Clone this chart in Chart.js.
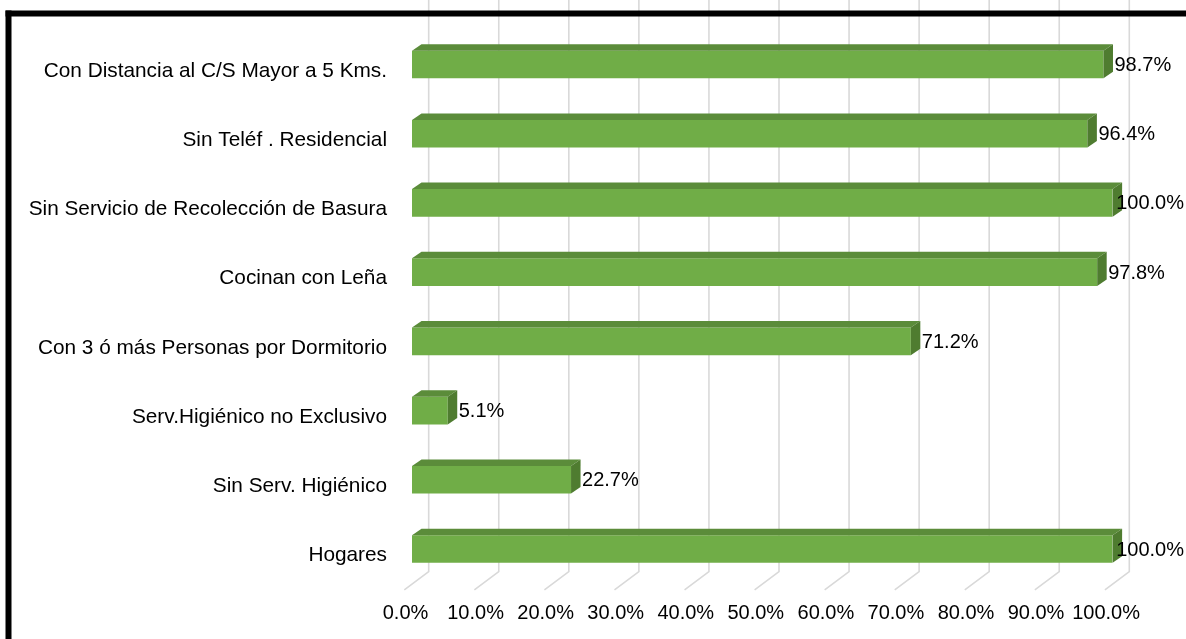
<!DOCTYPE html>
<html>
<head>
<meta charset="utf-8">
<script src="https://cdn.jsdelivr.net/npm/chart.js@4"></script>
<style>
  html, body { margin: 0; padding: 0; background: #fff; overflow: hidden; }
  #wrap { position: relative; width: 1186px; height: 639px; }
</style>
</head>
<body>
<div id="wrap"><canvas id="c" width="1186" height="639"></canvas></div>
<script>
// Indicadores de hogares (porcentaje)
const categories = [
  'Con Distancia al C/S Mayor a 5 Kms.',
  'Sin Teléf . Residencial',
  'Sin Servicio de Recolección de Basura',
  'Cocinan con Leña',
  'Con 3 ó más Personas por Dormitorio',
  'Serv.Higiénico no Exclusivo',
  'Sin Serv. Higiénico',
  'Hogares'
];
const values = [98.7, 96.4, 100.0, 97.8, 71.2, 5.1, 22.7, 100.0];
const tickValues = [0, 10, 20, 30, 40, 50, 60, 70, 80, 90, 100];
const tickLabels = ['0.0%', '10.0%', '20.0%', '30.0%', '40.0%', '50.0%', '60.0%', '70.0%', '80.0%', '90.0%', '100.0%'];

const FAMILY = '"Liberation Sans", Arial, sans-serif';
const FONT = { family: FAMILY, size: 20 };
const CAT_FONT = { family: FAMILY, size: 20.8 };
const FRONT = '#70ad47';
const TOP = '#5b8c3a';
const SIDE = '#4f7c30';
const GRID = '#d9d9d9';

// depth of the bars and of the back wall / floor
const BAR_DX = 9.5, BAR_DY = 6.5;
const WALL_DX = 16.7, WALL_LIFT = 12, FLOOR_DX = -24.4, FLOOR_DY = 18.3;

const pct = v => v.toFixed(1) + '%';

const frame = {
  id: 'frame',
  beforeDatasetsDraw(chart) {
    const { ctx, chartArea, scales: { x } } = chart;
    ctx.save();
    ctx.strokeStyle = GRID;
    ctx.lineWidth = 1.6;
    const yb = chartArea.bottom - WALL_LIFT;
    x.ticks.forEach(t => {
      const xb = x.getPixelForValue(t.value) + WALL_DX;
      ctx.beginPath();
      ctx.moveTo(xb, 0);
      ctx.lineTo(xb, yb);
      ctx.lineTo(xb + FLOOR_DX, yb + FLOOR_DY);
      ctx.stroke();
    });
    ctx.restore();
  },
  afterDatasetsDraw(chart) {
    const { ctx } = chart;
    const meta = chart.getDatasetMeta(0);
    ctx.save();
    meta.data.forEach(bar => {
      const { x, y, base, height } = bar.getProps(['x', 'y', 'base', 'height'], true);
      const top = y - height / 2, bot = y + height / 2;
      ctx.fillStyle = TOP;
      ctx.beginPath();
      ctx.moveTo(base, top);
      ctx.lineTo(base + BAR_DX, top - BAR_DY);
      ctx.lineTo(x + BAR_DX, top - BAR_DY);
      ctx.lineTo(x, top);
      ctx.closePath();
      ctx.fill();
      ctx.fillStyle = SIDE;
      ctx.beginPath();
      ctx.moveTo(x, top);
      ctx.lineTo(x + BAR_DX, top - BAR_DY);
      ctx.lineTo(x + BAR_DX, bot - BAR_DY);
      ctx.lineTo(x, bot);
      ctx.closePath();
      ctx.fill();
    });
    // value labels
    ctx.font = `${FONT.size}px ${FONT.family}`;
    ctx.fillStyle = '#000';
    ctx.textBaseline = 'middle';
    ctx.textAlign = 'left';
    meta.data.forEach((bar, i) => {
      const { x, y } = bar.getProps(['x', 'y'], true);
      const txt = pct(values[i]);
      const w = ctx.measureText(txt).width;
      const lx = Math.min(x + 11, chart.width - 2 - w);
      ctx.fillText(txt, lx, y + 1);
    });
    ctx.restore();
  },
  afterDraw(chart) {
    const { ctx } = chart;
    ctx.save();
    ctx.fillStyle = '#000';
    ctx.fillRect(5.5, 10.5, chart.width, 6);
    ctx.fillRect(5.5, 10.5, 6, chart.height);
    ctx.restore();
  }
};

new Chart(document.getElementById('c'), {
  type: 'bar',
  data: {
    labels: categories,
    datasets: [{
      data: values,
      backgroundColor: FRONT,
      borderWidth: 0,
      barPercentage: 0.4,
      categoryPercentage: 1
    }]
  },
  options: {
    indexAxis: 'y',
    responsive: false,
    animation: false,
    layout: { padding: { top: 29.9, right: 73.4, bottom: 0, left: 0 } },
    plugins: { legend: { display: false }, tooltip: { enabled: false } },
    scales: {
      x: {
        min: 0, max: 100,
        grid: { display: false, drawTicks: false },
        border: { display: false },
        afterBuildTicks(s) { s.ticks = tickValues.map(v => ({ value: v })); },
        ticks: {
          autoSkip: false, maxRotation: 0,
          callback: (v, i) => tickLabels[i],
          font: FONT, color: '#000',
          padding: 18, labelOffset: -6.5
        },
        afterFit(s) { s.height = 55.4; s.paddingLeft = 0; s.paddingRight = 0; }
      },
      y: {
        grid: { display: false, drawTicks: false },
        border: { display: false },
        ticks: { font: CAT_FONT, color: '#000', padding: 25, labelOffset: 6.5 },
        afterFit(s) { s.width = 412; s.paddingTop = 0; s.paddingBottom = 0; }
      }
    }
  },
  plugins: [frame]
});
</script>
</body>
</html>
